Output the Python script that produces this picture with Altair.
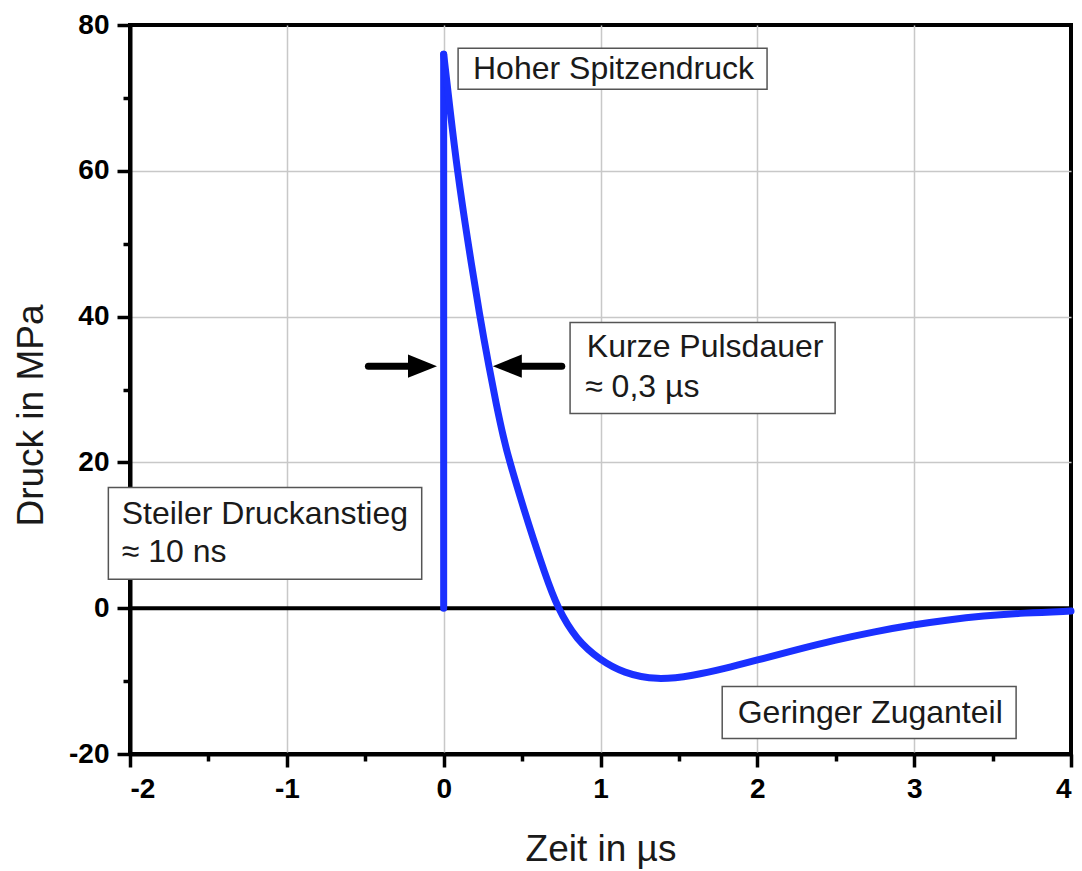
import altair as alt
import pandas as pd

# ---- data ----
time_us = [0.0, 0.0, 0.04, 0.087, 0.15, 0.232, 0.29, 0.335, 0.381, 0.419, 0.508, 0.572,
           0.64, 0.725, 0.849, 0.997, 1.146, 1.36, 1.59, 1.8, 2.0, 2.25, 2.49, 2.75,
           3.0, 3.2, 3.44, 3.7, 4.0]
pressure_mpa = [0.0, 76.0, 68.5, 60.0, 50.8, 39.8, 33.0, 28.0, 23.4, 20.2, 13.8, 9.5,
                5.1, 0.0, -4.4, -7.1, -8.9, -9.9, -9.25, -8.25, -7.1, -5.7, -4.4, -3.2,
                -2.25, -1.65, -1.05, -0.65, -0.4]

zero_level = [0.0]

arrow_y = [33.2, 33.2]
arrow_tail = [-0.48, 0.753]
arrow_head = [-0.135, 0.406]
arrow_shape = ["M-1,-0.8L1,0L-1,0.8Z", "M1,-0.8L-1,0L1,0.8Z"]

box_x1 = [0.092, 0.806, -2.138, 1.776]
box_x2 = [2.062, 2.496, -0.14, 3.65]
box_y1 = [76.8, 39.2, 16.56, -10.74]
box_y2 = [71.2, 26.7, 3.98, -17.87]

text_x = [0.187, 0.913, 0.902, -2.053, -2.053, 1.875]
text_y = [72.56, 34.39, 28.94, 11.52, 6.27, -15.68]
text_label = ["Hoher Spitzendruck", "Kurze Pulsdauer", "≈ 0,3 µs",
              "Steiler Druckanstieg", "≈ 10 ns", "Geringer Zuganteil"]

x_ticks = [-2 + 0.5 * i for i in range(13)]
y_ticks = [-20 + 10 * i for i in range(11)]

FONT = "Liberation Sans"

# ---- tables ----
curve = pd.concat([
    pd.DataFrame({"t": time_us[:2], "p": pressure_mpa[:2], "seg": "rise"}),
    pd.DataFrame({"t": time_us[1:], "p": pressure_mpa[1:], "seg": "decay"}),
], ignore_index=True)
zero_df = pd.DataFrame({"p": zero_level})
arrows = pd.DataFrame({"y": arrow_y, "tail": arrow_tail, "head": arrow_head,
                       "shape": arrow_shape})
boxes = pd.DataFrame({"x1": box_x1, "x2": box_x2, "y1": box_y1, "y2": box_y2})
texts = pd.DataFrame({"x": text_x, "y": text_y, "label": text_label})

xscale = alt.Scale(domain=[-2, 4], nice=False, zero=False)
yscale = alt.Scale(domain=[-20, 80], nice=False, zero=False)

x_axis = alt.Axis(
    values=x_ticks,
    labelExpr="datum.value % 1 === 0 ? '' + datum.value : ''",
    tickSize={"condition": {"test": "datum.value % 1 === 0", "value": 13}, "value": 7},
    gridOpacity={"condition": {"test": "datum.value % 1 === 0 && datum.value > -2 && datum.value < 4",
                               "value": 1}, "value": 0},
    title="Zeit in µs", titleY=106, titleBaseline="alphabetic",
    labelPadding=8, zindex=0,
)
y_axis = alt.Axis(
    values=y_ticks,
    labelExpr="datum.value % 20 === 0 ? '' + datum.value : ''",
    tickSize={"condition": {"test": "datum.value % 20 === 0", "value": 13}, "value": 7},
    gridOpacity={"condition": {"test": "datum.value % 20 === 0 && datum.value > -20 && datum.value < 80",
                               "value": 1}, "value": 0},
    title="Druck in MPa", titleX=-88, titleY=390, titleBaseline="alphabetic",
    titleAngle=270, labelPadding=8, zindex=0,
)

base_x = alt.X("t:Q", scale=xscale, axis=x_axis)
base_y = alt.Y("p:Q", scale=yscale, axis=y_axis)

grid_layer = alt.Chart(curve).mark_point(opacity=0).encode(x=base_x, y=base_y)

zero_rule = alt.Chart(zero_df).mark_rule(color="black", strokeWidth=4).encode(
    y=alt.Y("p:Q", scale=yscale)
)

line = alt.Chart(curve).mark_line(
    color="#1a30ff", strokeWidth=7, strokeCap="round", strokeJoin="round",
    interpolate="basis"
).encode(
    x=alt.X("t:Q", scale=xscale),
    y=alt.Y("p:Q", scale=yscale),
    detail="seg:N",
)

shafts = alt.Chart(arrows).mark_rule(color="black", strokeWidth=7, strokeCap="round").encode(
    x=alt.X("tail:Q", scale=xscale), x2="head:Q", y=alt.Y("y:Q", scale=yscale)
)
heads = alt.Chart(arrows).mark_point(filled=True, color="black", opacity=1, size=841).encode(
    x=alt.X("head:Q", scale=xscale), y=alt.Y("y:Q", scale=yscale),
    shape=alt.Shape("shape:N", scale=None, legend=None),
)

rects = alt.Chart(boxes).mark_rect(fill="white", stroke="#555555", strokeWidth=1.5).encode(
    x=alt.X("x1:Q", scale=xscale), x2="x2:Q",
    y=alt.Y("y1:Q", scale=yscale), y2="y2:Q",
)

labels = alt.Chart(texts).mark_text(
    align="left", baseline="alphabetic", font=FONT, fontSize=32, color="#1a1a1a"
).encode(
    x=alt.X("x:Q", scale=xscale), y=alt.Y("y:Q", scale=yscale), text="label:N"
)

chart = alt.layer(grid_layer, zero_rule, line, shafts, heads, rects, labels).properties(
    width=941, height=729,
    autosize=alt.AutoSizeParams(type="none"),
    padding={"left": 130, "top": 25, "right": 11, "bottom": 117},
    background="white",
).configure_view(
    stroke="black", strokeWidth=4
).configure_axis(
    domainColor="black", domainWidth=4,
    tickColor="black", tickWidth=3.5,
    gridColor="#c8c8c8", gridWidth=1.5,
    labelFont=FONT, labelFontSize=28, labelFontWeight="bold", labelColor="black",
    titleFont=FONT, titleFontSize=37, titleFontWeight="normal", titleColor="#1a1a1a",
)

chart.save("out.html", embed_options={"renderer": "svg", "actions": False})
